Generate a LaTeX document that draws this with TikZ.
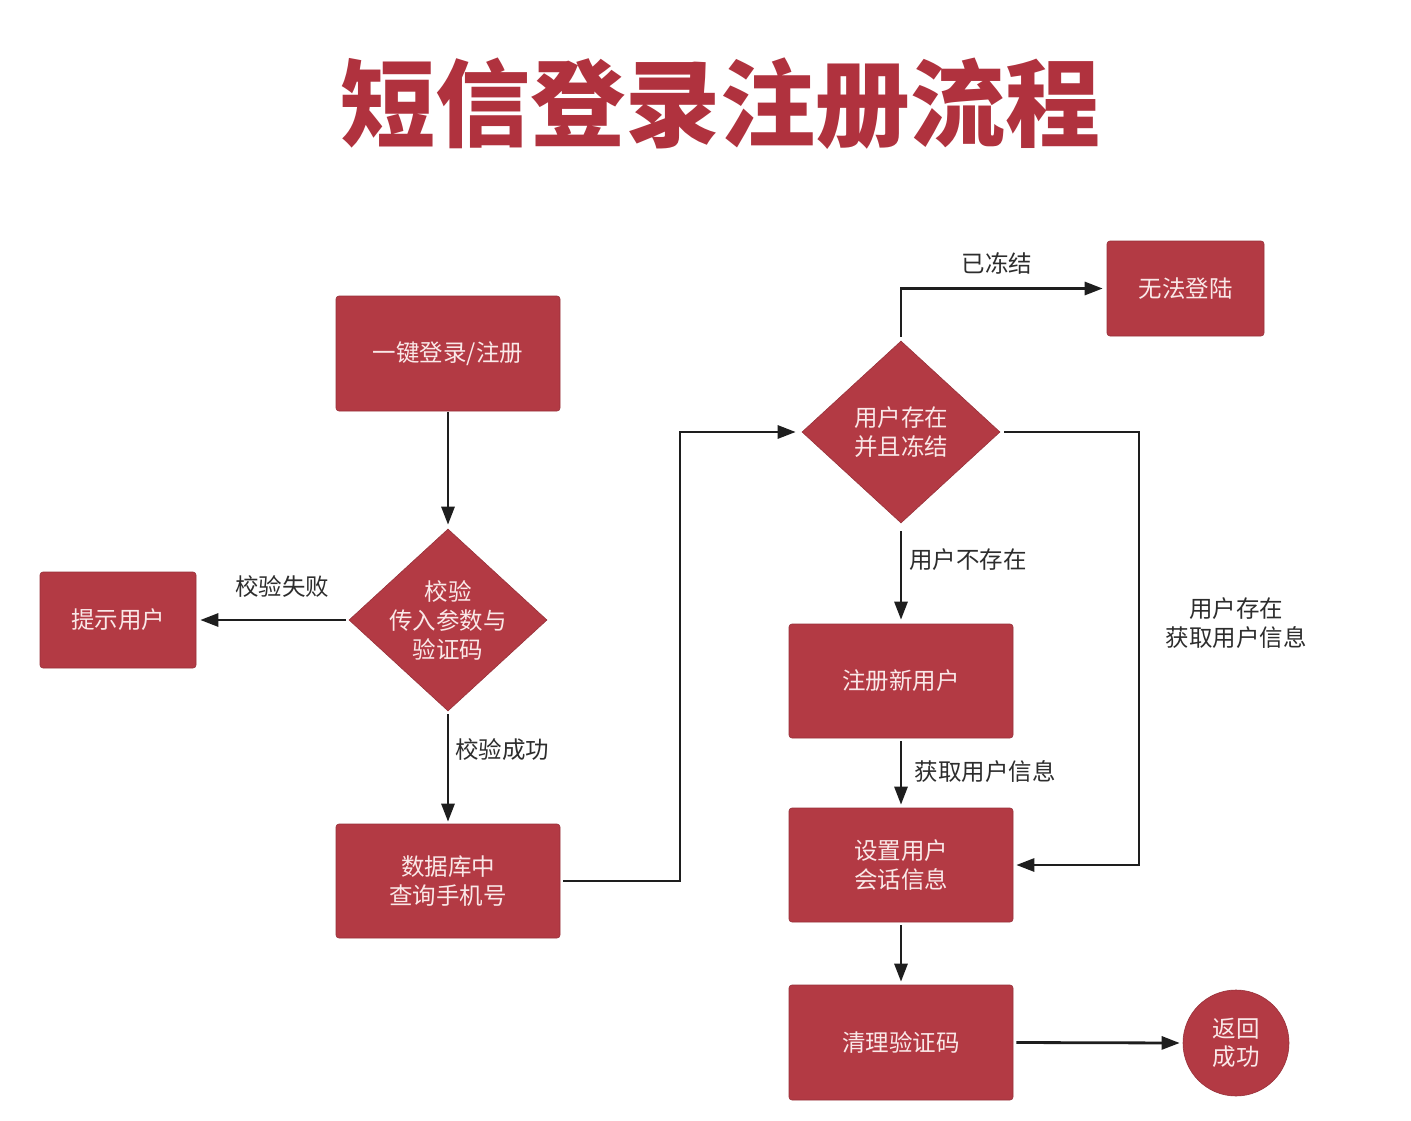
\documentclass[tikz,border=0pt]{standalone}
\usepackage{fontspec}
\setmainfont{Noto Sans CJK SC}
\usetikzlibrary{shapes.geometric,arrows.meta}
\definecolor{boxred}{RGB}{179,58,68}
\definecolor{titlered}{RGB}{176,50,62}
\definecolor{boxtext}{RGB}{250,232,232}
\definecolor{labeltext}{RGB}{45,45,45}
\definecolor{linecol}{RGB}{30,30,30}
\tikzset{
  boxnode/.style={draw=boxred!85!black, line width=0.6pt, fill=boxred, rounded corners=3pt, text=boxtext, align=center, inner sep=0pt, font=\fontsize{23.5}{28.5}\selectfont},
  decision/.style={diamond, draw=boxred!85!black, line width=0.6pt, fill=boxred, inner sep=0pt, minimum width=198pt, minimum height=182pt},
  dlabel/.style={text=boxtext, align=center, font=\fontsize{23.5}{29}\selectfont},
  endnode/.style={circle, draw=boxred!85!black, line width=0.6pt, fill=boxred, text=boxtext, align=center, inner sep=0pt, minimum size=106pt, font=\fontsize{23.5}{28.5}\selectfont},
  elabel/.style={text=labeltext, align=center, font=\fontsize{23.5}{28.5}\selectfont},
  flow/.style={draw=linecol, line width=2.8pt, -{Triangle[length=18pt,width=13pt]}},
}
\begin{document}
\begin{tikzpicture}[x=1pt,y=-1pt]
\useasboundingbox (0,0) rectangle (1411,1121);
\fill[white] (0,0) rectangle (1411,1121);

\node[text=titlered, font=\bfseries\fontsize{95}{100}\selectfont] (title) at (720,104) {短信登录注册流程};

\node[boxnode, minimum width=224pt, minimum height=115pt] (start) at (448,353.5) {一键登录/注册};
\node[decision, label={[dlabel]center:{校验\\传入参数与\\验证码}}] (check) at (448,620) {};
\node[boxnode, minimum width=156pt, minimum height=96pt] (hint) at (118,620) {提示用户};
\node[boxnode, minimum width=224pt, minimum height=114pt] (query) at (448,881) {数据库中\\查询手机号};
\node[decision, label={[dlabel]center:{用户存在\\并且冻结}}] (exist) at (901,432) {};
\node[boxnode, minimum width=157pt, minimum height=95pt] (fail) at (1185.5,288.5) {无法登陆};
\node[boxnode, minimum width=224pt, minimum height=114pt] (reg) at (901,681) {注册新用户};
\node[boxnode, minimum width=224pt, minimum height=114pt] (sess) at (901,865) {设置用户\\会话信息};
\node[boxnode, minimum width=224pt, minimum height=115pt] (clean) at (901,1042.5) {清理验证码};
\node[endnode] (done) at (1236,1043) {返回\\成功};

\coordinate (q1) at (680,881);
\coordinate (q2) at (680,432);
\coordinate (e1) at (901,288.5);
\coordinate (r1) at (1139,432);
\coordinate (r2) at (1139,865);

\draw[flow, shorten <=1pt, shorten >=4pt] (start.south) -- (check.north);
\draw[flow, shorten <=3pt, shorten >=4pt] (check.west) -- (hint.east);
\node[elabel] (lfail) at (282,586) {校验失败};
\draw[flow, shorten <=3pt, shorten >=2pt] (check.south) -- (query.north);
\node[elabel] (lok) at (502,750) {校验成功};
\draw[flow, shorten <=3pt, shorten >=6pt] (query.east) -- (q1) -- (q2) -- (exist.west);
\draw[flow, shorten <=4pt, shorten >=4pt] (exist.north) -- (e1) -- (fail.west);
\node[elabel] (lfrozen) at (997,263) {已冻结};
\draw[flow, shorten <=8pt, shorten >=4pt] (exist.south) -- (reg.north);
\node[elabel] (lnew) at (968,560) {用户不存在};
\draw[flow, shorten <=4pt, shorten >=3pt] (exist.east) -- (r1) -- (r2) -- (sess.east);
\node[elabel] (lexist) at (1236,623) {用户存在\\获取用户信息};
\draw[flow, shorten <=3pt, shorten >=3pt] (reg.south) -- (sess.north);
\node[elabel] (linfo) at (985,772) {获取用户信息};
\draw[flow, shorten <=3pt, shorten >=3pt] (sess.south) -- (clean.north);
\draw[flow, shorten <=3pt, shorten >=3pt] (clean.east) -- (done.west);
\end{tikzpicture}
\end{document}
